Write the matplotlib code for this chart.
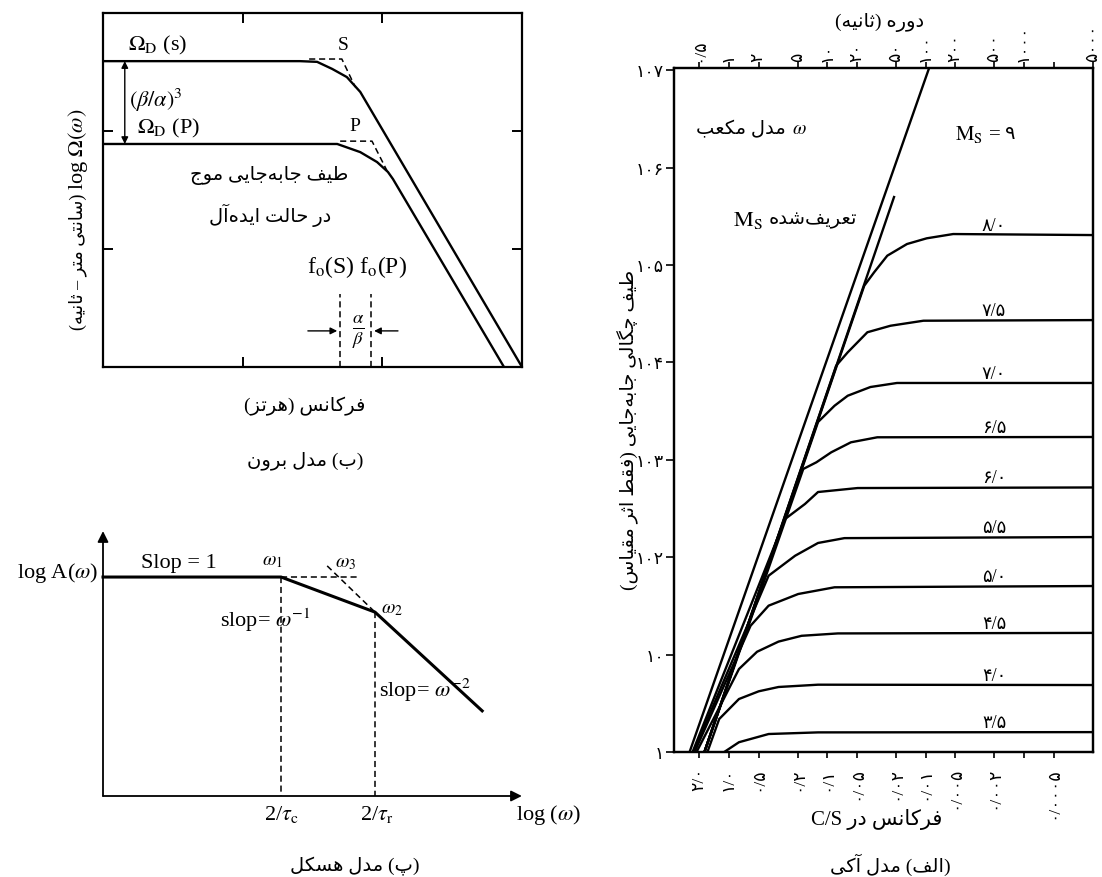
import matplotlib
matplotlib.use("Agg")
import matplotlib.pyplot as plt
from matplotlib.ticker import FixedLocator, FixedFormatter, NullLocator

plt.rcParams['font.family'] = ['Liberation Serif', 'DejaVu Sans']
plt.rcParams['mathtext.fontset'] = 'stix'

# --- Persian shaping: isolated, final, initial, medial ---
FORMS = {
    'ا': ('\uFE8D', '\uFE8E', None, None),
    'آ': ('\uFE81', '\uFE82', None, None),
    'د': ('\uFEA9', '\uFEAA', None, None),
    'ر': ('\uFEAD', '\uFEAE', None, None),
    'ز': ('\uFEAF', '\uFEB0', None, None),
    'و': ('\uFEED', '\uFEEE', None, None),
    'ب': ('\uFE8F', '\uFE90', '\uFE91', '\uFE92'),
    'پ': ('\uFB56', '\uFB57', '\uFB58', '\uFB59'),
    'ت': ('\uFE95', '\uFE96', '\uFE97', '\uFE98'),
    'ث': ('\uFE99', '\uFE9A', '\uFE9B', '\uFE9C'),
    'ج': ('\uFE9D', '\uFE9E', '\uFE9F', '\uFEA0'),
    'چ': ('\uFB7A', '\uFB7B', '\uFB7C', '\uFB7D'),
    'ح': ('\uFEA1', '\uFEA2', '\uFEA3', '\uFEA4'),
    'س': ('\uFEB1', '\uFEB2', '\uFEB3', '\uFEB4'),
    'ش': ('\uFEB5', '\uFEB6', '\uFEB7', '\uFEB8'),
    'ط': ('\uFEC1', '\uFEC2', '\uFEC3', '\uFEC4'),
    'ع': ('\uFEC9', '\uFECA', '\uFECB', '\uFECC'),
    'ف': ('\uFED1', '\uFED2', '\uFED3', '\uFED4'),
    'ق': ('\uFED5', '\uFED6', '\uFED7', '\uFED8'),
    'ک': ('\uFB8E', '\uFB8F', '\uFB90', '\uFB91'),
    'گ': ('\uFB92', '\uFB93', '\uFB94', '\uFB95'),
    'ل': ('\uFEDD', '\uFEDE', '\uFEDF', '\uFEE0'),
    'م': ('\uFEE1', '\uFEE2', '\uFEE3', '\uFEE4'),
    'ن': ('\uFEE5', '\uFEE6', '\uFEE7', '\uFEE8'),
    'ه': ('\uFEE9', '\uFEEA', '\uFEEB', '\uFEEC'),
    'ی': ('\uFBFC', '\uFBFD', '\uFBFE', '\uFBFF'),
}
MIRROR = {'(': ')', ')': '('}


def fa(s):
    out = []
    for i, c in enumerate(s):
        if c not in FORMS:
            out.append(c)
            continue
        prev = s[i - 1] if i > 0 else ''
        nxt = s[i + 1] if i + 1 < len(s) else ''
        lp = prev in FORMS and FORMS[prev][2] is not None
        ln = FORMS[c][2] is not None and nxt in FORMS
        iso, fin, ini, med = FORMS[c]
        out.append(med if (lp and ln) else fin if lp else ini if ln else iso)
    shaped = ''.join(out).replace('\u200c', '')
    return ''.join(MIRROR.get(c, c) for c in reversed(shaped))


# --- (الف) Aki model data ---
freq_ticks = [2, 1, 0.5, 0.2, 0.1, 0.05, 0.02, 0.01, 0.005, 0.002, 0.001, 0.0005]
freq_labels = ['۲/۰', '۱/۰', '۰/۵', '۰/۲', '۰/۱', '۰/۰۵', '۰/۰۲', '۰/۰۱',
               '۰/۰۰۵', '۰/۰۰۲', '', '۰/۰۰۰۵']
period_ticks = [0.5, 1, 2, 5, 10, 20, 50, 100, 200, 500, 1000, 2000, 5000]
period_labels = ['۰/۵', '۱', '۲', '۵', '۱۰', '۲۰', '۵۰', '۱۰۰', '۲۰۰', '۵۰۰',
                 '۱۰۰۰', '', '۵۰۰۰']
amp_ticks = [1, 10, 1e2, 1e3, 1e4, 1e5, 1e6, 1e7]
amp_labels = ['۱', '۱۰', '۱۰۲', '۱۰۳', '۱۰۴', '۱۰۵', '۱۰۶', '۱۰۷']

ms_labels = ['۳/۵', '۴/۰', '۴/۵', '۵/۰', '۵/۵', '۶/۰', '۶/۵', '۷/۰', '۷/۵', '۸/۰']
f_35 = [1.12, 0.793, 0.396, 0.1245, 0.000199]
a_35 = [1.0, 1.26, 1.53, 1.59, 1.60]
f_40 = [1.66, 1.26, 0.793, 0.499, 0.314, 0.1245, 0.000199]
a_40 = [1.0, 2.18, 3.50, 4.20, 4.65, 4.91, 4.87]
f_45 = [2.14, 0.793, 0.519, 0.314, 0.183, 0.0783, 0.000199]
a_45 = [1.0, 7.11, 10.7, 13.6, 15.6, 16.5, 16.7]
f_50 = [2.24, 0.604, 0.396, 0.198, 0.0846, 0.000199]
a_50 = [1.0, 19.8, 31.8, 41.9, 49.1, 50.6]
f_55 = [2.30, 0.396, 0.213, 0.1245, 0.0671, 0.000199]
a_55 = [1.0, 64.6, 103.5, 140, 157, 161]
f_60 = [2.35, 0.269, 0.169, 0.1245, 0.0493, 0.000199]
a_60 = [1.0, 247, 352, 467, 513, 520]
f_65 = [1.78, 0.176, 0.1294, 0.0914, 0.0576, 0.0311, 0.000199]
a_65 = [1.0, 805, 943, 1194, 1513, 1703, 1715]
f_70 = [1.78, 0.1245, 0.0846, 0.0621, 0.0365, 0.0196, 0.000199]
a_70 = [1.0, 2444, 3590, 4550, 5590, 6150, 6150]
f_75 = [1.78, 0.0815, 0.0621, 0.0392, 0.0228, 0.01054, 0.000199]
a_75 = [1.0, 9250, 12700, 20400, 23800, 26800, 27200]
f_80 = [1.78, 0.0422, 0.0335, 0.0246, 0.0155, 0.00977, 0.00526, 0.000199]
a_80 = [1.0, 61300, 84100, 124700, 164300, 188000, 208000, 203000]
cube_f = [2.52, 0.00931]
cube_a = [1.0, 1.03e7]
msdef_f = [1.78, 0.0210]
msdef_a = [1.0, 4.99e5]
ms_label_f = 0.00202

# --- (ب) Brune model data (schematic log units) ---
s_x = [0, 4.70, 5.11, 5.47, 5.82, 6.14, 10.0]
s_y = [8.64, 8.64, 8.62, 8.42, 8.19, 7.77, 0]
s_dash_x = [4.92, 5.70, 6.02]
s_dash_y = [8.70, 8.70, 7.91]
p_x = [0, 5.59, 6.14, 6.54, 6.80, 6.92, 9.57]
p_y = [6.30, 6.30, 6.07, 5.79, 5.51, 5.31, 0]
p_dash_x = [5.66, 6.42, 6.78]
p_dash_y = [6.38, 6.38, 5.54]
fo_s, fo_p = 5.66, 6.40

# --- (پ) Haskell model data (schematic log units) ---
hask_x = [0, 4.17, 6.37, 8.88]
hask_y = [8.05, 8.05, 6.76, 3.13]
w3_x = [5.25, 6.37]
w3_y = [8.46, 6.76]
w1_dash_x = [4.17, 6.02]

W, H = 1102, 878
fig = plt.figure(figsize=(W / 100, H / 100), dpi=100)


def rect(l, t, r, b):
    return [l / W, 1 - b / H, (r - l) / W, (b - t) / H]


def ftext(x, y, s, **kw):
    return fig.text(x / W, 1 - y / H, s, **kw)


LW = 1.7
DASH = dict(lw=1.1, dashes=(4, 2.5), color='k')

# ================= (الف) =================
ax = fig.add_axes(rect(674, 69, 1093, 753))
ax.set_xscale('log')
ax.set_yscale('log')
ax.set_xlim(3.63, 1.99e-4)
ax.set_ylim(1, 1.054e7)
ax.plot(cube_f, cube_a, 'k', lw=LW)
ax.plot(msdef_f, msdef_a, 'k', lw=LW)
curves = [(f_35, a_35), (f_40, a_40), (f_45, a_45), (f_50, a_50), (f_55, a_55),
          (f_60, a_60), (f_65, a_65), (f_70, a_70), (f_75, a_75), (f_80, a_80)]
for (f, a), lab in zip(curves, ms_labels):
    ax.plot(f, a, 'k', lw=LW, solid_joinstyle='round')
    ax.annotate(lab, xy=(ms_label_f, a[-1]), xytext=(0, 1),
                textcoords='offset points', ha='center', va='bottom', fontsize=13)

ax.xaxis.set_major_locator(FixedLocator(freq_ticks))
ax.xaxis.set_major_formatter(FixedFormatter(freq_labels))
ax.xaxis.set_minor_locator(NullLocator())
ax.yaxis.set_major_locator(FixedLocator(amp_ticks))
ax.yaxis.set_major_formatter(FixedFormatter(amp_labels))
ax.yaxis.set_minor_locator(NullLocator())
ax.tick_params(axis='x', direction='out', length=4, width=1.2, pad=6,
               labelsize=12.5, labelrotation=90)
ax.tick_params(axis='y', direction='out', length=6, width=1.2, pad=1, labelsize=12.5)

top = ax.twiny()
top.set_xscale('log')
top.set_xlim(ax.get_xlim())
top.xaxis.set_major_locator(FixedLocator([1 / p for p in period_ticks]))
top.xaxis.set_major_formatter(FixedFormatter(period_labels))
top.xaxis.set_minor_locator(NullLocator())
top.tick_params(axis='x', direction='out', length=4, width=1.2, pad=1,
                labelsize=12.5, labelrotation=90)
for a_ in (ax, top):
    for sp in a_.spines.values():
        sp.set_linewidth(1.6)

t1 = ax.text(0.053, 0.912, fa('مدل مکعب'), transform=ax.transAxes,
             ha='left', va='center', fontsize=14)
ax.annotate(r'$\omega$', xy=(1, 0.5), xycoords=t1, xytext=(4, 0),
            textcoords='offset points', ha='left', va='center', fontsize=14)
t2 = ax.text(0.142, 0.779, r'$\mathrm{M_S}$', transform=ax.transAxes,
             ha='left', va='center', fontsize=16)
ax.annotate(fa('تعریف\u200cشده'), xy=(1, 0.5), xycoords=t2, xytext=(4, 0),
            textcoords='offset points', ha='left', va='center', fontsize=14)
t3 = ax.text(0.67, 0.904, r'$\mathrm{M_S}$ =', transform=ax.transAxes,
             ha='left', va='center', fontsize=15)
ax.annotate('۹', xy=(1, 0.5), xycoords=t3, xytext=(3, 0),
            textcoords='offset points', ha='left', va='center', fontsize=14)

ftext(880, 22, fa('دوره (ثانیه)'), ha='center', va='center', fontsize=14)
ftext(628, 430, fa('طیف چگالی جابه\u200cجایی (فقط اثر مقیاس)'), rotation=90,
      ha='center', va='center', fontsize=14)
ftext(877, 820, 'C/S ' + fa('فرکانس در'), ha='center', va='center', fontsize=15)
ftext(890, 865, fa('(الف) مدل آکی'), ha='center', va='center', fontsize=14)

# ================= (ب) =================
bx = fig.add_axes(rect(103, 14, 522, 368))
bx.set_xlim(0, 10)
bx.set_ylim(0, 10)
bx.plot(s_x, s_y, 'k', lw=LW)
bx.plot(p_x, p_y, 'k', lw=LW)
bx.plot(s_dash_x, s_dash_y, **DASH)
bx.plot(p_dash_x, p_dash_y, **DASH)
bx.plot([fo_s, fo_s], [0, 2.06], **DASH)
bx.plot([fo_p, fo_p], [0, 2.06], **DASH)
bx.set_xticks([3.33, 6.67])
bx.set_yticks([3.33, 6.67])
bx.set_xticklabels([])
bx.set_yticklabels([])
bx.tick_params(direction='in', length=7, width=1.4, top=True, right=True)
for sp in bx.spines.values():
    sp.set_linewidth(1.6)
arrow = dict(lw=1.0, color='k', mutation_scale=10, shrinkA=0, shrinkB=0)
bx.annotate('', xy=(0.52, s_y[0]), xytext=(0.52, p_y[0]),
            arrowprops=dict(arrowstyle='<|-|>', **arrow))
bx.annotate('', xy=(fo_s - 0.07, 1.02), xytext=(4.89, 1.02),
            arrowprops=dict(arrowstyle='-|>', **arrow))
bx.annotate('', xy=(fo_p + 0.07, 1.02), xytext=(7.04, 1.02),
            arrowprops=dict(arrowstyle='-|>', **arrow))
bx.text(1.31, 9.12, r'$\Omega_{\mathrm{D}}$ (s)', ha='center', va='center', fontsize=16)
bx.text(5.73, 9.10, 'S', ha='center', va='center', fontsize=14)
bx.text(0.62, 7.57, r'$(\beta/\alpha)^3$', ha='left', va='center', fontsize=16)
bx.text(0.80, 6.78, r'$\Omega_{\mathrm{D}}$ (P)', ha='left', va='center', fontsize=16)
bx.text(6.02, 6.81, 'P', ha='center', va='center', fontsize=14)
bx.text(3.96, 5.45, fa('طیف جابه\u200cجایی موج'), ha='center', va='center', fontsize=14)
bx.text(3.99, 4.32, fa('در حالت ایده\u200cآل'), ha='center', va='center', fontsize=14)
bx.text(6.06, 2.85, r'f$_\mathrm{o}$(S) f$_\mathrm{o}$(P)', ha='center', va='center',
        fontsize=17)
bx.text(6.09, 1.02, r'$\frac{\alpha}{\beta}$', ha='center', va='center', fontsize=19)

ty = ftext(78, 262, fa('(سانتی متر – ثانیه)'), rotation=90, ha='center',
           va='center', fontsize=13)
bx.annotate(r'log $\Omega(\omega)$', xy=(0.5, 1), xycoords=ty, xytext=(0, 3),
            textcoords='offset points', rotation=90, ha='center', va='bottom',
            fontsize=16, annotation_clip=False)
ftext(305, 406, fa('فرکانس (هرتز)'), ha='center', va='center', fontsize=14)
ftext(305, 461, fa('(ب) مدل برون'), ha='center', va='center', fontsize=14)

# ================= (پ) =================
cx = fig.add_axes(rect(103, 525, 530, 797))
cx.set_xlim(0, 10)
cx.set_ylim(0, 10)
cx.axis('off')
axis_arrow = dict(arrowstyle='-|>', lw=1.3, color='k', mutation_scale=16,
                  shrinkA=0, shrinkB=0)
cx.annotate('', xy=(9.81, 0), xytext=(0, 0), arrowprops=axis_arrow)
cx.annotate('', xy=(0, 9.74), xytext=(0, 0), arrowprops=axis_arrow)
cx.plot(hask_x, hask_y, 'k', lw=2.2, clip_on=False)
cx.plot(w1_dash_x, [hask_y[1]] * 2, **DASH)
cx.plot(w3_x, w3_y, **DASH)
cx.plot([hask_x[1]] * 2, [hask_y[1], 0], **DASH)
cx.plot([hask_x[2]] * 2, [hask_y[2], 0], **DASH)
cx.text(-0.12, 8.24, r'log A($\omega$)', ha='right', va='center', fontsize=16)
cx.text(1.78, 8.60, 'Slop = 1', ha='center', va='center', fontsize=16)
cx.text(3.96, 8.64, r'$\omega_1$', ha='center', va='center', fontsize=14)
cx.text(5.67, 8.60, r'$\omega_3$', ha='center', va='center', fontsize=14)
cx.text(6.77, 6.88, r'$\omega_2$', ha='center', va='center', fontsize=14)
cx.text(2.74, 6.51, r'slop= $\omega^{-1}$', ha='left', va='center', fontsize=16)
cx.text(6.46, 3.93, r'slop= $\omega^{-2}$', ha='left', va='center', fontsize=16)
cx.text(4.17, -0.66, r'2/$\tau_\mathrm{c}$', ha='center', va='center', fontsize=16,
        clip_on=False)
cx.text(6.42, -0.66, r'2/$\tau_\mathrm{r}$', ha='center', va='center', fontsize=16,
        clip_on=False)
cx.text(10.44, -0.66, r'log ($\omega$)', ha='center', va='center', fontsize=16,
        clip_on=False)
ftext(355, 866, fa('(پ) مدل هسکل'), ha='center', va='center', fontsize=14)

fig.savefig('out.png', dpi=100)
